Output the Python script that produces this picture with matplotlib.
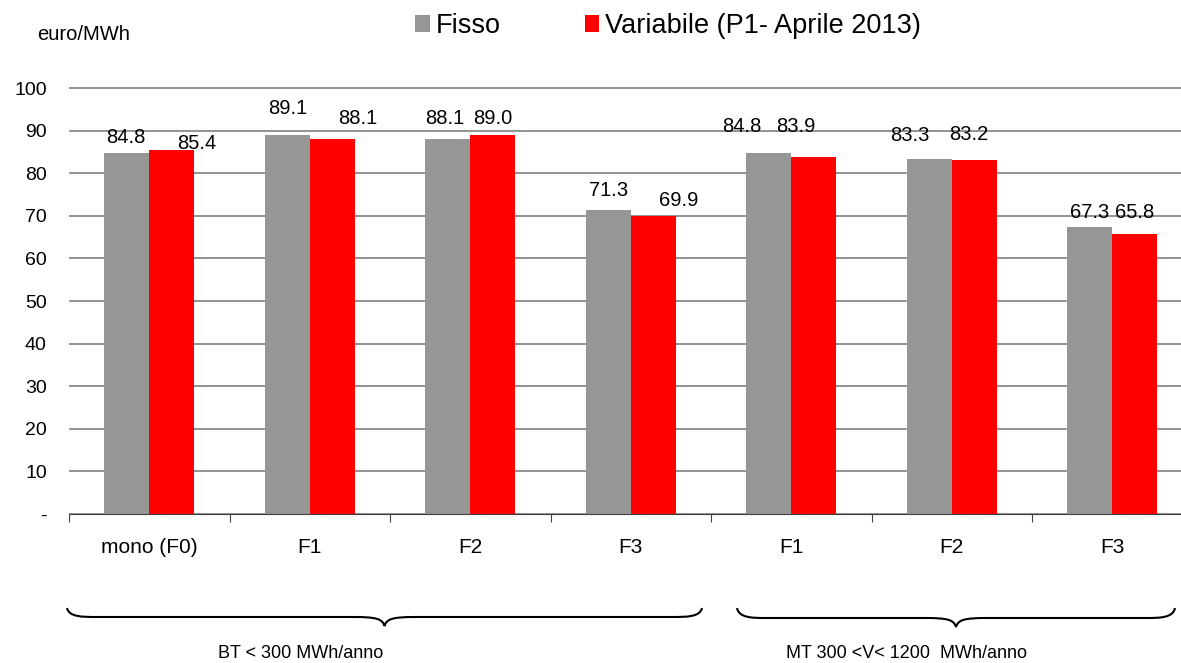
import matplotlib.pyplot as plt
import numpy as np
from matplotlib.path import Path
from matplotlib.patches import PathPatch

plt.rcParams["font.family"] = ["Liberation Sans", "DejaVu Sans"]

categories = ["mono (F0)", "F1", "F2", "F3", "F1", "F2", "F3"]
fisso = [84.8, 89.1, 88.1, 71.3, 84.8, 83.3, 67.3]
variabile = [85.4, 88.1, 89.0, 69.9, 83.9, 83.2, 65.8]
series_names = ["Fisso", "Variabile (P1- Aprile 2013)"]
group_labels = ["BT < 300 MWh/anno", "MT 300 <V< 1200  MWh/anno"]
y_ticks = [0, 10, 20, 30, 40, 50, 60, 70, 80, 90, 100]
y_tick_labels = ["-", "10", "20", "30", "40", "50", "60", "70", "80", "90", "100"]

# label offsets in pixels (dx, dy above bar top), mimicking Excel placement
fisso_off = [(-1, 15), (0, 26), (-3, 20), (0, 20), (-27, 26), (-19, 24), (0, 15)]
var_off = [(25, 7), (26, 20), (0, 16), (25, 16), (-18, 30), (-5, 25), (0, 21)]

W, H = 1181, 663
fig = plt.figure(figsize=(W / 100, H / 100), dpi=100)
ax = fig.add_axes([69 / W, 1 - 514 / H, 1 - 69 / W, (514 - 86) / H])

x = np.arange(len(categories))
bw = 0.28
ax.bar(x - bw / 2, fisso, bw, color="#969696", label=series_names[0], zorder=2)
ax.bar(x + bw / 2, variabile, bw, color="#ff0000", label=series_names[1], zorder=2)

for i in range(len(x)):
    for val, xp, off in ((fisso[i], x[i] - bw / 2, fisso_off[i]), (variabile[i], x[i] + bw / 2, var_off[i])):
        ax.annotate(f"{val:.1f}", (xp, val), xytext=off, textcoords="offset pixels",
                    ha="center", va="center", fontsize=14.5, color="#000000", zorder=3)

ax.set_yticks(y_ticks)
ax.set_yticklabels(y_tick_labels, fontsize=14)
ax.yaxis.grid(True, color="#808080", linewidth=1.2, zorder=0)
ax.tick_params(axis="y", length=0, pad=16)

ax.set_xticks(np.arange(len(categories) + 1) - 0.5)
ax.set_xticklabels([])
ax.tick_params(axis="x", which="major", direction="out", length=6, color="#404040")
ax.set_xticks(x, minor=True)
ax.set_xticklabels(categories, minor=True, fontsize=15)
ax.tick_params(axis="x", which="minor", length=0, pad=17)

# set limits after ticks (set_xticks can widen the view)
ax.set_ylim(0, 100.5)
ax.set_xlim(-0.5, -0.5 + (W - 69) / 160.5)

for s in ["top", "right", "left"]:
    ax.spines[s].set_visible(False)
ax.spines["bottom"].set_color("#404040")

fig.text(37 / W, 1 - 35 / H, "euro/MWh", fontsize=14.5, va="center", ha="left")

fig.legend(loc="center", bbox_to_anchor=(668 / W, 1 - 26 / H), ncol=2, frameon=False,
           fontsize=19.5, handlelength=0.55, handleheight=0.55, handletextpad=0.2,
           columnspacing=3.1, borderaxespad=0)

# overlay for group braces, in pixel coordinates
ov = fig.add_axes([0, 0, 1, 1])
ov.set_xlim(0, W)
ov.set_ylim(H, 0)
ov.axis("off")


def brace(x0, x1, ytop, yline, ytip):
    xc = (x0 + x1) / 2
    r = 30
    verts = [
        (x0, ytop), (x0 + 2, yline), (x0 + r / 2, yline), (x0 + r, yline),
        (xc - r, yline),
        (xc - 8, yline), (xc - 2, yline + 2), (xc, ytip),
        (xc + 2, yline + 2), (xc + 8, yline), (xc + r, yline),
        (x1 - r, yline),
        (x1 - r / 2, yline), (x1 - 2, yline), (x1, ytop),
    ]
    codes = [Path.MOVETO, Path.CURVE4, Path.CURVE4, Path.CURVE4,
             Path.LINETO,
             Path.CURVE4, Path.CURVE4, Path.CURVE4,
             Path.CURVE4, Path.CURVE4, Path.CURVE4,
             Path.LINETO,
             Path.CURVE4, Path.CURVE4, Path.CURVE4]
    ov.add_patch(PathPatch(Path(verts, codes), facecolor="none", edgecolor="black", linewidth=1.5))


brace(67, 702, 608, 617, 626)
brace(737, 1175, 608, 618, 627)

ov.text(301, 653, group_labels[0], fontsize=13, ha="center", va="center")
ov.text(906, 653, group_labels[1], fontsize=13, ha="center", va="center")

fig.savefig("out.png", dpi=100)
